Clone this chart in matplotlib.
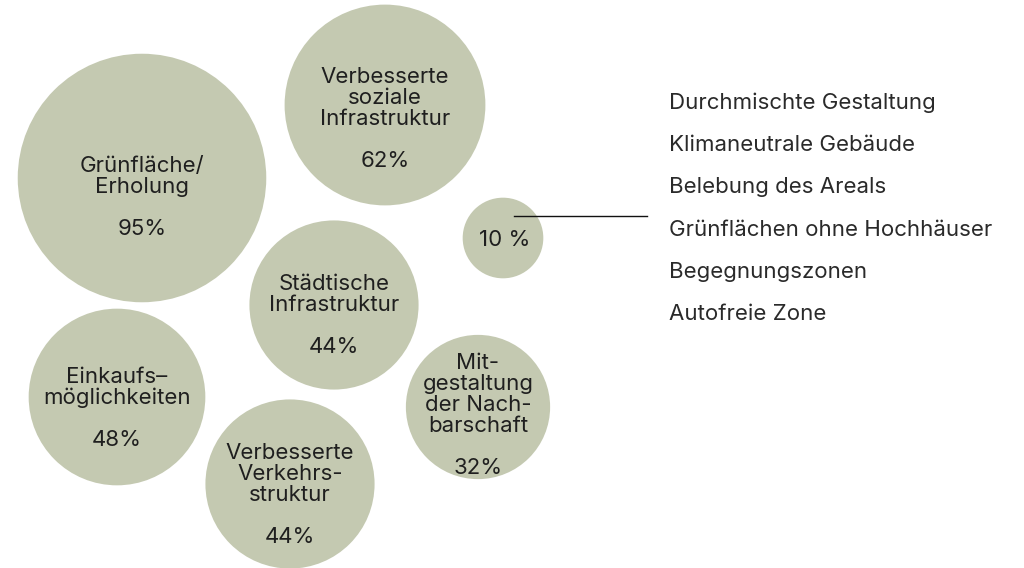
import matplotlib
matplotlib.use("Agg")
import matplotlib.pyplot as plt
from matplotlib.patches import Circle
import numpy as np

# ---- data ----
labels = ["Grünfläche/\nErholung", "Verbesserte\nsoziale\nInfrastruktur", "", "Städtische\nInfrastruktur",
          "Einkaufs–\nmöglichkeiten", "Mit-\ngestaltung\nder Nach-\nbarschaft", "Verbesserte\nVerkehrs-\nstruktur"]
values = [95, 62, 10, 44, 48, 32, 44]
value_labels = ["95%", "62%", "10 %", "44%", "48%", "32%", "44%"]
other_items = ["Durchmischte Gestaltung", "Klimaneutrale Gebäude", "Belebung des Areals",
               "Grünflächen ohne Hochhäuser", "Begegnungszonen", "Autofreie Zone"]

# ---- layout (pixel space) ----
centers = [(142, 178), (385, 105), (503, 238), (334, 305), (117, 397), (478, 407), (290, 484)]
scale = 12.75  # px per sqrt(percent)

FONT = ["Inter", "DejaVu Sans"]
plt.rcParams['font.family'] = FONT

fig = plt.figure(figsize=(10.24, 5.68), dpi=100)
ax = fig.add_axes([0, 0, 1, 1])
ax.set_xlim(0, 1024)
ax.set_ylim(568, 0)
ax.set_aspect('equal')
ax.axis('off')

fill = "#c4c9b1"
txt = "#1f1f1f"
for (cx, cy), v, lab, vl in zip(centers, values, labels, value_labels):
    r = scale * np.sqrt(v)
    ax.add_patch(Circle((cx, cy), r, facecolor=fill, edgecolor='none'))
    if lab:
        ax.text(cx, cy + 0.21 * r - 7, lab + "\n\n" + vl, ha='center', va='center',
                fontsize=16, color=txt, linespacing=1.06)
    else:
        ax.text(cx + 2, cy + 2, vl, ha='center', va='center', fontsize=16, color=txt)

# connector line from small bubble to list
ax.plot([514, 647], [216, 216], color="#111111", lw=1.0)

y0, dy = 102.5, 42.4
for i, item in enumerate(other_items):
    ax.text(669, y0 + i * dy, item, ha='left', va='center', fontsize=16, color="#2a2a2a")

fig.savefig("out.png", dpi=100)
